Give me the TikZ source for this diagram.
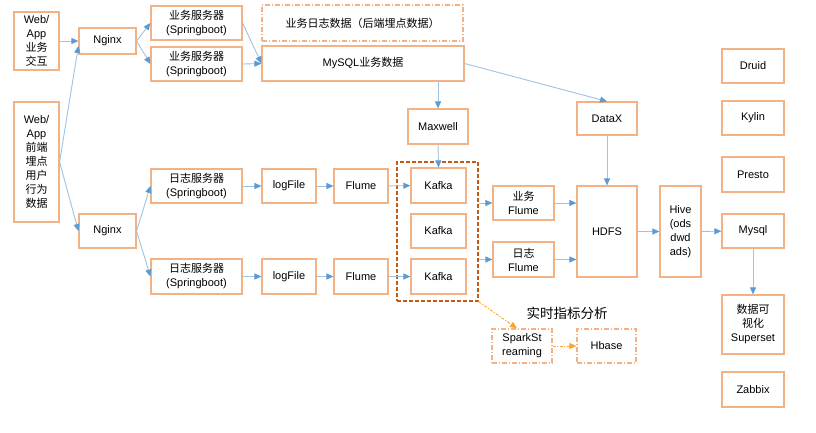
\documentclass[tikz,border=0pt]{standalone}
\usepackage{fontspec}
\setmainfont{Liberation Sans}
\newfontfamily\cjk{Noto Sans CJK SC}
\usetikzlibrary{arrows.meta,calc}
\definecolor{bord}{HTML}{F4B183}
\definecolor{lineb}{HTML}{9DC3E6}
\definecolor{tipb}{HTML}{5B9BD5}
\definecolor{grpc}{HTML}{C55A11}
\definecolor{orar}{HTML}{F7A531}
\newcommand\zh[1]{{\cjk #1}}
\begin{document}
\begin{tikzpicture}[x=1pt,y=-1pt,
  box/.style={draw=bord,line width=1.2pt,fill=white,inner sep=0pt,align=center,font=\fontsize{11}{14}\selectfont},
  ddbox/.style={box,dash pattern=on 5pt off 2pt on 1pt off 2pt},
  flow/.style={draw=lineb,line width=0.9pt,-{Triangle[length=7pt,width=6pt,color=tipb]}},
  oflow/.style={draw=orar,line width=0.9pt,dash pattern=on 3pt off 1.5pt on 1pt off 1.5pt,-{Triangle[length=7pt,width=6pt,color=orar]}}
]
\useasboundingbox[fill=white] (0,0) rectangle (816,432);

% left column
\node[box,minimum width=45pt,minimum height=58pt] (web1) at (36.5,41) {Web/\\App\\\zh{业务}\\\zh{交互}};
\node[box,minimum width=45pt,minimum height=120pt] (web2) at (36.5,162) {Web/\\App\\\zh{前端}\\\zh{埋点}\\\zh{用户}\\\zh{行为}\\\zh{数据}};
\node[box,minimum width=57pt,minimum height=26pt] (ng1) at (107.5,41) {Nginx};
\node[box,minimum width=57pt,minimum height=34pt] (ng2) at (107.5,231) {Nginx};

% servers
\node[box,minimum width=91pt,minimum height=34pt] (biz1) at (196.5,23) {\zh{业务服务器}\\(Springboot)};
\node[box,minimum width=91pt,minimum height=34pt] (biz2) at (196.5,64) {\zh{业务服务器}\\(Springboot)};
\node[box,minimum width=91pt,minimum height=34pt] (log1) at (196.5,186) {\zh{日志服务器}\\(Springboot)};
\node[box,minimum width=91pt,minimum height=35pt] (log2) at (196.5,276.5) {\zh{日志服务器}\\(Springboot)};

% business data
\node[ddbox,minimum width=201pt,minimum height=36pt] (blog) at (362.5,23) {\zh{业务日志数据（后端埋点数据）}};
\node[box,minimum width=202pt,minimum height=35pt] (mysql) at (363,63.5) {MySQL\zh{业务数据}};
\node[box,minimum width=60pt,minimum height=35pt] (maxw) at (438,126.5) {Maxwell};

% log path
\node[box,minimum width=54pt,minimum height=34pt] (lf1) at (289,186) {logFile};
\node[box,minimum width=54pt,minimum height=34pt] (fl1) at (361,186) {Flume};
\node[box,minimum width=54pt,minimum height=35pt] (lf2) at (289,276.5) {logFile};
\node[box,minimum width=54pt,minimum height=35pt] (fl2) at (361,276.5) {Flume};

% kafka group
\node[draw=grpc,dash pattern=on 4pt off 2pt,line width=1.2pt,minimum width=81pt,minimum height=139pt,inner sep=0pt] (grp) at (437.5,231.5) {};
\node[box,minimum width=55pt,minimum height=35pt] (k1) at (438.5,185.5) {Kafka};
\node[box,minimum width=55pt,minimum height=34pt] (k2) at (438.5,231) {Kafka};
\node[box,minimum width=55pt,minimum height=35pt] (k3) at (438.5,276.5) {Kafka};

% flume to hdfs
\node[box,minimum width=61pt,minimum height=34pt] (bfl) at (523.5,203) {\zh{业务}\\Flume};
\node[box,minimum width=61pt,minimum height=35pt] (lfl) at (523.5,259.5) {\zh{日志}\\Flume};
\node[box,minimum width=60pt,minimum height=33pt] (datax) at (607,118.5) {DataX};
\node[box,minimum width=60pt,minimum height=91pt] (hdfs) at (607,231.5) {HDFS};
\node[box,minimum width=41pt,minimum height=91pt] (hive) at (680.5,231.5) {Hive\\(ods\\dwd\\ads)};

% right column
\node[box,minimum width=62pt,minimum height=34pt] (druid) at (753,66) {Druid};
\node[box,minimum width=62pt,minimum height=34pt] (kylin) at (753,118) {Kylin};
\node[box,minimum width=62pt,minimum height=35pt] (presto) at (753,174.5) {Presto};
\node[box,minimum width=62pt,minimum height=34pt] (mysql2) at (753,231) {Mysql};
\node[box,minimum width=62pt,minimum height=59pt] (sup) at (753,324.5) {\zh{数据可}\\\zh{视化}\\Superset};
\node[box,minimum width=62pt,minimum height=35pt] (zab) at (753,389.5) {Zabbix};

% realtime
\node[font=\fontsize{13.5}{16}\selectfont] (rtl) at (567,313) {\zh{实时指标分析}};
\node[ddbox,minimum width=60pt,minimum height=34pt] (spark) at (522,346) {SparkSt\\reaming};
\node[ddbox,minimum width=59pt,minimum height=34pt] (hbase) at (606.5,346) {Hbase};

% connectors
\draw[flow] (web1) -- (ng1);
\draw[flow] (web2.east) -- ($(ng1.west)+(0,5)$);
\draw[flow] (web2.east) -- (ng2.west);
\draw[flow] (ng1.east) -- (biz1.west);
\draw[flow] (ng1.east) -- (biz2.west);
\draw[flow] (biz1.east) -- (mysql.west);
\draw[flow] (biz2.east) -- (mysql.west);
\draw[flow] (maxw.north |- mysql.south) -- (maxw.north);
\draw[flow] (mysql.east) -- (datax.north);
\draw[flow] (maxw.south) -- (k1.north);
\draw[flow] (datax) -- (hdfs);
\draw[flow] (ng2.east) -- (log1.west);
\draw[flow] (ng2.east) -- (log2.west);
\draw[flow] (log1) -- (lf1);
\draw[flow] (lf1) -- (fl1);
\draw[flow] (fl1) -- (k1);
\draw[flow] (log2) -- (lf2);
\draw[flow] (lf2) -- (fl2);
\draw[flow] (fl2) -- (k3);
\draw[flow] (grp.east |- bfl.west) -- (bfl.west);
\draw[flow] (grp.east |- lfl.west) -- (lfl.west);
\draw[flow] (bfl.east) -- (bfl.east -| hdfs.west);
\draw[flow] (lfl.east) -- (lfl.east -| hdfs.west);
\draw[flow] (hdfs) -- (hive);
\draw[flow] (hive) -- (mysql2);
\draw[flow] (mysql2) -- (sup);
\draw[oflow] (grp.south east) -- ($(spark.north)+(-5,0)$);
\draw[oflow] (spark) -- (hbase);
\end{tikzpicture}
\end{document}
